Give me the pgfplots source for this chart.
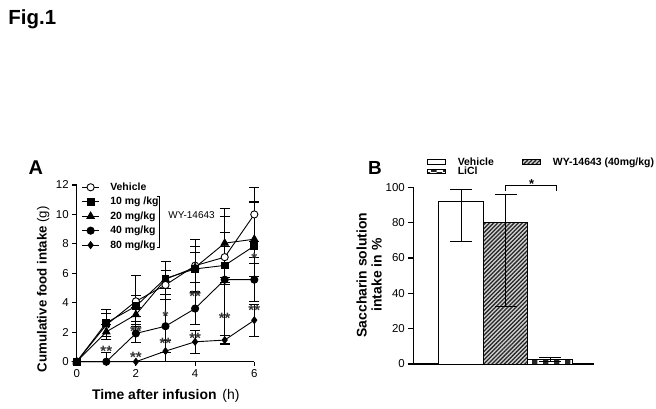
\documentclass[border=0pt]{standalone}
\usepackage{fontspec}
\setmainfont{Liberation Sans}
\usepackage{pgfplots}
\pgfplotsset{compat=1.18}
\usetikzlibrary{patterns,patterns.meta}
\begin{document}
\begin{tikzpicture}
\path[use as bounding box, fill=white] (0,0) rectangle (656bp,409bp);
\node[anchor=base west, inner sep=0pt, font=\bfseries\fontsize{20.5}{24}\selectfont] at (8.3bp,384bp) {Fig.1};
\node[anchor=base west, inner sep=0pt, font=\bfseries\fontsize{20}{24}\selectfont] at (28.5bp,234bp) {A};
\node[anchor=base west, inner sep=0pt, font=\bfseries\fontsize{19}{24}\selectfont] at (368bp,234bp) {B};
\node[rotate=90, anchor=base, inner sep=0pt, font=\fontsize{13.3}{15}\selectfont] at (46.7bp,119.8bp) {\textbf{Cumulative food intake} (g)};
\node[anchor=base, inner sep=0pt, font=\fontsize{14}{16}\selectfont] at (165.8bp,9.5bp) {\textbf{Time after infusion}\hspace{2bp} (h)};
\node[rotate=90, anchor=base, inner sep=0pt, font=\bfseries\fontsize{14}{16}\selectfont] at (366.5bp,134bp) {Saccharin solution};
\node[rotate=90, anchor=base, inner sep=0pt, font=\bfseries\fontsize{14}{16}\selectfont] at (381.5bp,134bp) {intake in \%};

% ---------------- Panel A ----------------
\begin{axis}[
  at={(76.7bp,47.3bp)}, anchor=south west,
  scale only axis, width=177.6bp, height=176.7bp,
  xmin=0, xmax=6, ymin=0, ymax=12,
  axis lines=left, axis line style={line width=1.1bp, -},
  xtick={0,2,4,6}, ytick={0,2,...,12},
  tick align=outside, major tick length=4.5bp,
  tick style={line width=1.1bp, black},
  ticklabel style={font=\fontsize{11.5}{13}\selectfont},
  /pgf/number format/assume math mode=true,
  clip=false,
  error bars/y dir=both, error bars/y explicit,
  error bars/error mark options={rotate=90, mark size=5bp, line width=0.9bp, black},
  error bars/error bar style={line width=0.9bp, black},
  legend cell align=left,
  legend style={at={(axis description cs:0.028,1.024)}, anchor=north west, draw=none, fill=none,
    inner sep=0pt, outer sep=0pt, font=\bfseries\fontsize{10.5}{12}\selectfont,
    row sep=1.4bp,
    /tikz/every odd column/.append style={column sep=8.7bp}},
]
\addplot[black, line width=0.9bp, mark=*, mark size=3.6bp, mark options={solid, fill=white, draw=black, line width=0.9bp}]
 coordinates {(0,0) += (0,0) -= (0,0) (1,2.5) += (0,0.8) -= (0,0.8) (2,4.1) += (0,1.74) -= (0,1.7)
  (3,5.21) += (0,1.0) -= (0,1.0) (4,6.52) += (0,1.8) -= (0,1.8) (5,7.1) += (0,1.7) -= (0,1.7) (6,10.0) += (0,1.84) -= (0,1.84)};
\addlegendentry{Vehicle}
\addplot[black, line width=0.9bp, mark=square*, mark size=3.4bp, mark options={solid, fill=black, draw=black}]
 coordinates {(0,0) += (0,0) -= (0,0) (1,2.64) += (0,0.9) -= (0,0.9) (2,3.77) += (0,0.7) -= (0,0.7)
  (3,5.66) += (0,1.14) -= (0,1.1) (4,6.3) += (0,1.5) -= (0,1.5) (5,6.54) += (0,1.3) -= (0,1.3) (6,7.86) += (0,3.0) -= (0,1.2)};
\addlegendentry{10 mg /kg}
\addplot[black, line width=0.9bp, mark=triangle*, mark size=4.2bp, mark options={solid, fill=black, draw=black}]
 coordinates {(0,0) += (0,0) -= (0,0) (1,2.03) += (0,0.5) -= (0,0.5) (2,3.2) += (0,0.5) -= (0,0.5)
  (3,5.6) += (0,0.6) -= (0,0.6) (4,6.4) += (0,1.0) -= (0,1.0) (5,8.05) += (0,2.35) -= (0,2.35) (6,8.32) += (0,2.5) -= (0,2.5)};
\addlegendentry{20 mg/kg}
\addplot[black, line width=0.9bp, mark=*, mark size=3.6bp, mark options={solid, fill=black, draw=black}]
 coordinates {(0,0) += (0,0) -= (0,0) (1,0) += (0,0) -= (0,0) (2,1.92) += (0,0.6) -= (0,0.6)
  (3,2.41) += (0,1.8) -= (0,1.8) (4,3.61) += (0,1.1) -= (0,1.1) (5,5.57) += (0,4.3) -= (0,4.35) (6,5.57) += (0,1.5) -= (0,1.5)};
\addlegendentry{40 mg/kg}
\addplot[black, line width=0.9bp, mark=diamond*, mark size=3.4bp, mark options={solid, fill=black, draw=black}]
 coordinates {(0,0) += (0,0) -= (0,0) (1,0) += (0,0.62) -= (0,0) (2,0) += (0,0) -= (0,0)
  (3,0.72) += (0,0.72) -= (0,0.72) (4,1.35) += (0,0.8) -= (0,0.8) (5,1.47) += (0,0.3) -= (0,0.3) (6,2.82) += (0,1.1) -= (0,1.1)};
\addlegendentry{80 mg/kg}
% bracket and label
\draw[line width=0.9bp] (axis cs:2.70,11.21) -- (axis cs:2.79,11.21) -- (axis cs:2.79,7.77) -- (axis cs:2.70,7.77);
\node[font=\fontsize{10}{12}\selectfont] at (axis cs:3.88,9.97) {WY-14643};
% significance stars
\begin{scope}[every node/.style={anchor=base, yshift=-8.6bp, inner sep=0pt, text=black!80, font=\bfseries\fontsize{15}{16}\selectfont}]
\node at (axis cs:1,0.95) {**};
\node at (axis cs:2,2.3) {**};
\node at (axis cs:2,0.55) {**};
\node at (axis cs:3,3.32) {*};
\node at (axis cs:3,1.47) {**};
\node at (axis cs:4,4.69) {**};
\node at (axis cs:4,1.81) {**};
\node at (axis cs:5,3.17) {**};
\node at (axis cs:6,7.25) {*};
\node at (axis cs:6,3.74) {**};
\end{scope}
\end{axis}

% ---------------- Panel B ----------------
\begin{axis}[
  at={(413.3bp,45bp)}, anchor=south west,
  scale only axis, width=180.7bp, height=176.7bp,
  xmin=-0.072, xmax=3.989, ymin=0, ymax=100,
  axis lines=left, axis line style={line width=1.1bp, -},
  xtick=\empty, ytick={0,20,...,100},
  tick align=outside, major tick length=5bp,
  tick style={line width=1.1bp, black},
  ticklabel style={font=\fontsize{11.5}{13}\selectfont},
  /pgf/number format/assume math mode=true,
  clip=false,
  ybar, bar width=1, bar shift=0pt,
  error bars/y dir=both, error bars/y explicit,
  error bars/error mark options={rotate=90, mark size=11bp, line width=0.9bp, black},
  error bars/error bar style={line width=0.9bp, black},
  legend columns=2,
  legend cell align=left,
  legend style={at={(axis description cs:0.074,1.18)}, anchor=north west, draw=none, fill=none,
    inner sep=0pt, outer sep=0pt, font=\bfseries\fontsize{10.5}{12}\selectfont,
    row sep=-3.7bp,
    /tikz/every odd column/.append style={column sep=10bp},
    /tikz/every even column/.append style={column sep=26bp}},
  mybox/.style={legend image code/.code={\draw[##1, line width=0.8bp] (0bp,-2.3bp) rectangle (18.3bp,2.3bp);}},
]
\addplot[draw=black, line width=0.9bp, fill=white, mybox]
 coordinates {(1,92.2) += (0,6.3) -= (0,23.0)};
\addlegendentry{Vehicle}
\addplot[draw=black, line width=0.9bp, fill=gray!35, postaction={pattern color=black!85, pattern={Lines[angle=45,distance=2.9bp,line width=1.3bp]}}, mybox]
 coordinates {(2,80.0) += (0,16.0) -= (0,47.2)};
\addlegendentry{WY-14643 (40mg/kg)}
\addplot[draw=black, line width=0.9bp, fill=white, postaction={pattern color=black!85, pattern=checkerboard}, mybox]
 coordinates {(3,2.6) += (0,1.2) -= (0,1.2)};
\addlegendentry{LiCl}
\draw[line width=0.9bp] (axis cs:2,98.1) -- (axis cs:2,100.9) -- (axis cs:3.135,100.9) -- (axis cs:3.135,98.1);
\node[anchor=base, yshift=-7.5bp, inner sep=0pt, font=\bfseries\fontsize{13}{14}\selectfont] at (axis cs:2.59,103.5) {*};
\end{axis}
\end{tikzpicture}
\end{document}
